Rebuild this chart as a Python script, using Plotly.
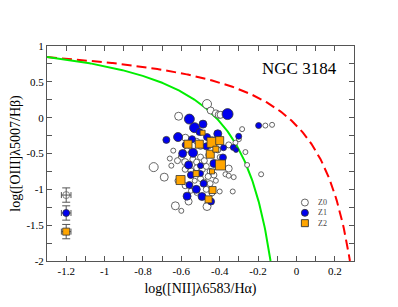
import numpy as np
import plotly.graph_objects as go

# ---------------- data ----------------
# Z0: open circles
z0_x = [-0.466, -0.447, -0.42, -0.405, -0.395, -0.614, -0.744, -0.689, -0.631, -0.562,
        -0.466, -0.353, -0.353, -0.579, -0.60, -0.283, -0.162, -0.127, -0.266, -0.257,
        -0.184, -0.40, -0.332, -0.37, -0.353, -0.327, -0.642, -0.652, -0.30, -0.318,
        -0.60, -0.58, -0.54, -0.52, -0.50, -0.48, -0.46, -0.58, -0.55, -0.52,
        -0.49, -0.47, -0.45, -0.43, -0.46, -0.50, -0.53, -0.48, -0.45, -0.42,
        -0.47, -0.52, -0.44, -0.55, -0.58, -0.62, -0.62, -0.66, -0.50, -0.46,
        -0.52, -0.44, -0.57, -0.41, -0.40, -0.43]
z0_y = [0.19, 0.10, 0.06, 0.04, 0.04, 0.02, -0.69, -0.83, -1.23, -1.17,
        -1.24, -0.71, -0.38, -0.28, -1.30, -0.16, -0.11, -0.10, -0.48, -0.66,
        -0.79, -1.03, -1.03, -0.79, -0.81, -0.83, -0.46, -0.67, -0.30, -0.35,
        -0.55, -0.62, -0.58, -0.62, -0.55, -0.60, -0.52, -0.72, -0.74, -0.70,
        -0.72, -0.68, -0.75, -0.80, -0.82, -0.85, -0.88, -0.90, -0.92, -0.88,
        -1.00, -1.05, -1.05, -1.02, -0.95, -0.88, -0.60, -0.57, -0.40, -0.40,
        -0.33, -0.30, -0.45, -0.45, -0.55, -0.65]
z0_s = [9, 7, 7, 7, 7, 8, 9, 8, 8, 7,
        8, 7, 6, 7, 5, 5, 5, 5, 5, 5,
        5, 5, 5, 5, 5, 5, 5, 5, 5, 5,
        6, 7, 6, 6, 6, 6, 5, 6, 6, 6,
        6, 6, 6, 6, 6, 6, 5, 6, 6, 5,
        6, 5, 6, 5, 6, 5, 6, 5, 6, 6,
        6, 5, 5, 6, 5, 5]

# Z1: blue filled circles
z1_x = [-0.359, -0.558, -0.531, -0.487, -0.617, -0.678, -0.505, -0.466, -0.41, -0.544,
        -0.197, -0.301, -0.329, -0.315, -0.38, -0.593, -0.539, -0.562, -0.50, -0.43,
        -0.383, -0.558, -0.522, -0.57, -0.492, -0.484, -0.445, -0.50, -0.55, -0.47,
        -0.58]
z1_y = [0.05, -0.02, -0.14, -0.09, -0.27, -0.31, -0.20, -0.27, -0.225, -0.30,
        -0.11, -0.26, -0.415, -0.45, -0.42, -0.50, -0.49, -0.66, -0.67, -0.64,
        -0.555, -0.94, -1.00, -1.095, -1.10, -0.92, -1.17, -0.78, -0.80, -0.40,
        -0.38]
z1_s = [11, 10, 10, 8, 9, 7, 7, 7, 8, 7,
        6, 6, 6, 5, 6, 8, 9, 8, 6, 8,
        7, 7, 8, 8, 8, 7, 7, 6, 7, 7,
        6]

# Z2: orange squares
z2_x = [-0.44, -0.40, -0.449, -0.396, -0.506, -0.565, -0.489, -0.604, -0.437, -0.458,
        -0.523, -0.42, -0.44]
z2_y = [-0.345, -0.32, -0.51, -0.66, -0.37, -0.37, -0.21, -0.87, -1.01, -1.14,
        -0.78, -0.44, -0.75]
z2_s = [10, 8, 8, 10, 8, 8, 5, 9, 7, 7, 6, 6, 5]

# representative error bars
err_x = [-1.2, -1.2, -1.2]
err_y = [-1.08, -1.33, -1.59]
err_dx = 0.025
err_dy = 0.10

# demarcation curves: y = a / (x - b) + c
KAUFFMANN = (0.61, 0.05, 1.30)
KEWLEY = (0.61, 0.47, 1.19)

x_ticks = [-1.2, -1.0, -0.8, -0.6, -0.4, -0.2, 0.0, 0.2]
x_ticktext = ["-1.2", "-1", "-0.8", "-0.6", "-0.4", "-0.2", "0", "0.2"]
y_ticks = [-2, -1.5, -1, -0.5, 0, 0.5, 1]
y_ticktext = ["-2", "-1.5", "-1", "-0.5", "0", "0.5", "1"]

X_RANGE = [-1.3, 0.3]
Y_RANGE = [-2.0, 1.0]

# ---------------- figure ----------------
SERIF = "Liberation Serif, Times New Roman, serif"
EDGE = "#333333"

def curve(params):
    a, b, c = params
    x_end = b + a / (Y_RANGE[0] - c)
    xs = np.linspace(X_RANGE[0], x_end, 300)
    return xs, a / (xs - b) + c

fig = go.Figure()

kx, ky = curve(KAUFFMANN)
wx, wy = curve(KEWLEY)
fig.add_trace(go.Scatter(x=wx, y=wy, mode="lines",
                         line=dict(color="#ff0000", width=2, dash="10px,5px")))
fig.add_trace(go.Scatter(x=kx, y=ky, mode="lines",
                         line=dict(color="#00ee00", width=2)))

fig.add_trace(go.Scatter(x=z0_x, y=z0_y, mode="markers",
                         marker=dict(symbol="circle", size=z0_s, color="white", opacity=1,
                                     line=dict(color="#555555", width=0.9))))
fig.add_trace(go.Scatter(x=z1_x, y=z1_y, mode="markers",
                         marker=dict(symbol="circle", size=z1_s, color="#0000ee", opacity=1,
                                     line=dict(color=EDGE, width=0.8))))
fig.add_trace(go.Scatter(x=z2_x, y=z2_y, mode="markers",
                         marker=dict(symbol="square", size=z2_s, color="#ffa500", opacity=1,
                                     line=dict(color=EDGE, width=0.8))))

err_colors = ["rgba(0,0,0,0)", "#0000ee", "#ffa500"]
err_symbols = ["circle", "circle", "square"]
err_lines = ["#666666", EDGE, EDGE]
for i in range(3):
    fig.add_trace(go.Scatter(
        x=[err_x[i]], y=[err_y[i]], mode="markers",
        error_x=dict(type="constant", value=err_dx, color="#555555", thickness=1, width=3),
        error_y=dict(type="constant", value=err_dy, color="#555555", thickness=1, width=4),
        marker=dict(symbol=err_symbols[i], size=7, color=err_colors[i], opacity=1,
                    line=dict(color=err_lines[i], width=0.8))))

# legend (drawn on an overlay axis spanning the plot area, 0..1)
LEG_X = 0.840
LEG_Y = [0.272, 0.224, 0.176]
leg_colors = ["white", "#0000ee", "#ffa500"]
leg_symbols = ["circle", "circle", "square"]
leg_lines = ["#555555", EDGE, EDGE]
for i in range(3):
    fig.add_trace(go.Scatter(x=[LEG_X], y=[LEG_Y[i]], xaxis="x2", yaxis="y2",
                             mode="markers",
                             marker=dict(symbol=leg_symbols[i], size=7, color=leg_colors[i],
                                         line=dict(color=leg_lines[i], width=0.9))))
fig.add_annotation(x=LEG_X + 0.04, y=LEG_Y[1], xref="x2", yref="y2",
                   text="Z0<br>Z1<br>Z2", showarrow=False, xanchor="left",
                   yanchor="middle", align="left", borderpad=0,
                   font=dict(family=SERIF, size=8, color="#444444"))

fig.add_annotation(x=0.952, y=0.8975, xref="paper", yref="paper", text="NGC 3184",
                   showarrow=False, xanchor="right", yanchor="middle",
                   font=dict(family=SERIF, size=17, color="black"))

axis_common = dict(showline=True, linecolor="#555555", linewidth=1, mirror="ticks",
                   ticks="inside", ticklen=5, tickcolor="#555555", showgrid=False,
                   zeroline=False, automargin=False,
                   tickfont=dict(family=SERIF, size=11, color="black"))

fig.update_layout(
    width=382, height=291,
    margin=dict(l=39, r=36, t=38, b=38),
    paper_bgcolor="white", plot_bgcolor="white",
    showlegend=False,
    xaxis=dict(range=X_RANGE, tickvals=x_ticks, ticktext=x_ticktext,
               minor=dict(dtick=0.1, ticks="inside", ticklen=5, tickcolor="#555555"),
               title=dict(text="log([NII]λ6583/Hα)", standoff=6,
                          font=dict(family=SERIF, size=14, color="black")),
               **axis_common),
    yaxis=dict(range=Y_RANGE, tickvals=y_ticks, ticktext=y_ticktext,
               minor=dict(dtick=0.25, ticks="inside", ticklen=5, tickcolor="#555555"),
               title=dict(text="log([OIII]λ5007/Hβ)", standoff=4,
                          font=dict(family=SERIF, size=14, color="black")),
               **axis_common),
    xaxis2=dict(range=[0, 1], overlaying="x", visible=False, anchor="y2"),
    yaxis2=dict(range=[0, 1], overlaying="y", visible=False, anchor="x2"),
)

fig.write_html("out.html")
